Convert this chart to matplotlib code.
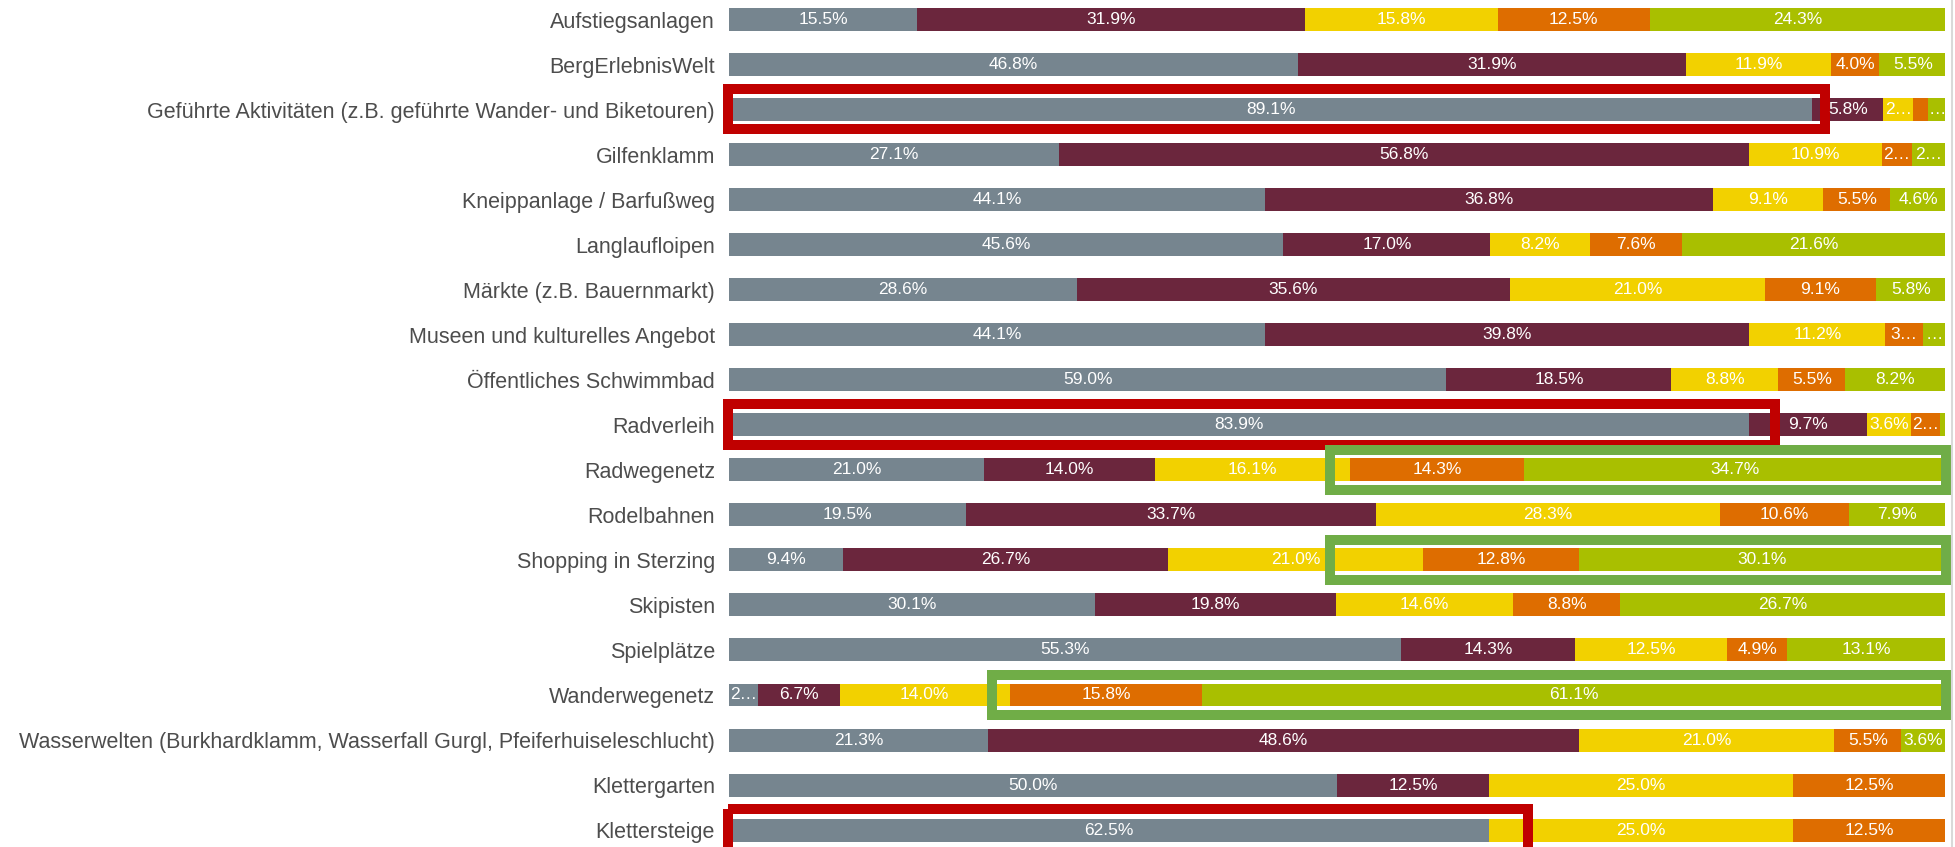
import matplotlib
matplotlib.use("Agg")
import matplotlib.pyplot as plt
from matplotlib.patches import Rectangle

plt.rcParams['font.family'] = ['Liberation Sans', 'DejaVu Sans']

categories = [
    "Aufstiegsanlagen",
    "BergErlebnisWelt",
    "Geführte Aktivitäten (z.B. geführte Wander- und Biketouren)",
    "Gilfenklamm",
    "Kneippanlage / Barfußweg",
    "Langlaufloipen",
    "Märkte (z.B. Bauernmarkt)",
    "Museen und kulturelles Angebot",
    "Öffentliches Schwimmbad",
    "Radverleih",
    "Radwegenetz",
    "Rodelbahnen",
    "Shopping in Sterzing",
    "Skipisten",
    "Spielplätze",
    "Wanderwegenetz",
    "Wasserwelten (Burkhardklamm, Wasserfall Gurgl, Pfeiferhuiseleschlucht)",
    "Klettergarten",
    "Klettersteige",
]

grey_vals = [15.5, 46.8, 89.1, 27.1, 44.1, 45.6, 28.6, 44.1, 59.0, 83.9,
             21.0, 19.5, 9.4, 30.1, 55.3, 2.4, 21.3, 50.0, 62.5]
maroon_vals = [31.9, 31.9, 5.8, 56.8, 36.8, 17.0, 35.6, 39.8, 18.5, 9.7,
               14.0, 33.7, 26.7, 19.8, 14.3, 6.7, 48.6, 12.5, 0.0]
yellow_vals = [15.8, 11.9, 2.5, 10.9, 9.1, 8.2, 21.0, 11.2, 8.8, 3.6,
               16.1, 28.3, 21.0, 14.6, 12.5, 14.0, 21.0, 25.0, 25.0]
orange_vals = [12.5, 4.0, 1.2, 2.5, 5.5, 7.6, 9.1, 3.1, 5.5, 2.4,
               14.3, 10.6, 12.8, 8.8, 4.9, 15.8, 5.5, 12.5, 12.5]
green_vals = [24.3, 5.5, 1.5, 2.7, 4.6, 21.6, 5.8, 1.8, 8.2, 0.4,
              34.7, 7.9, 30.1, 26.7, 13.1, 61.1, 3.6, 0.0, 0.0]

series = [grey_vals, maroon_vals, yellow_vals, orange_vals, green_vals]
colors = ["#76858f", "#6b263d", "#f2d100", "#de6d00", "#a9bf00"]

# highlight frames: (row, x from, x to) in percent
red_frames = [(2, -0.1, 90.1), (9, -0.1, 86.0), (18, -0.1, 65.7)]
green_frames = [(10, 49.4, 100.1), (12, 49.4, 100.1), (15, 21.6, 100.1)]

W, H = 1956, 847
fig = plt.figure(figsize=(W / 100, H / 100), dpi=100)
ax = fig.add_axes([729 / W, (H - 852.6) / H, 1216 / W, 855.6 / H])

y = list(range(len(categories)))
left = [0.0] * len(categories)
bars = []
for vals, col in zip(series, colors):
    ax.barh(y, vals, left=left, height=0.51, color=col, edgecolor='none')
    bars.append((vals, list(left)))
    left = [l + v for l, v in zip(left, vals)]

ax.set_xlim(0, 100)
ax.set_ylim(len(categories) - 0.5, -0.5)
ax.set_yticks(y)
ax.set_yticklabels(categories, fontsize=15.5, color="#4d4d4d")
ax.tick_params(axis='y', length=0, pad=10)
ax.set_xticks([])
for s in ax.spines.values():
    s.set_visible(False)

# segment labels, cut with an ellipsis when they do not fit
fig.canvas.draw()
renderer = fig.canvas.get_renderer()
px_per_pct = 1216 / 100
for vals, lefts in bars:
    for i, (v, l) in enumerate(zip(vals, lefts)):
        if v <= 0:
            continue
        room = v * px_per_pct
        full = f"{v:.1f}%"
        t = ax.text(l + v / 2, i, full, ha='center', va='center',
                    fontsize=12.5, color='white')
        if t.get_window_extent(renderer).width <= room:
            continue
        shown = False
        for k in range(len(full) - 1, -1, -1):
            t.set_text(full[:k].rstrip('.') + "…")
            if t.get_window_extent(renderer).width <= room:
                shown = True
                break
        if not shown:
            t.remove()

for row, x0, x1 in red_frames:
    ax.add_patch(Rectangle((x0, row - 0.46), x1 - x0, 0.9, fill=False,
                           edgecolor="#c00000", linewidth=7.2, clip_on=False))
for row, x0, x1 in green_frames:
    ax.add_patch(Rectangle((x0, row - 0.45), x1 - x0, 0.9, fill=False,
                           edgecolor="#70ad47", linewidth=7.2, clip_on=False))

# thin border line at the right edge of the page
fig.add_artist(plt.Line2D([1952 / W, 1952 / W], [0, 1], color="#d9d9d9",
                          linewidth=1.5, transform=fig.transFigure))

fig.savefig("out.png", dpi=100)
